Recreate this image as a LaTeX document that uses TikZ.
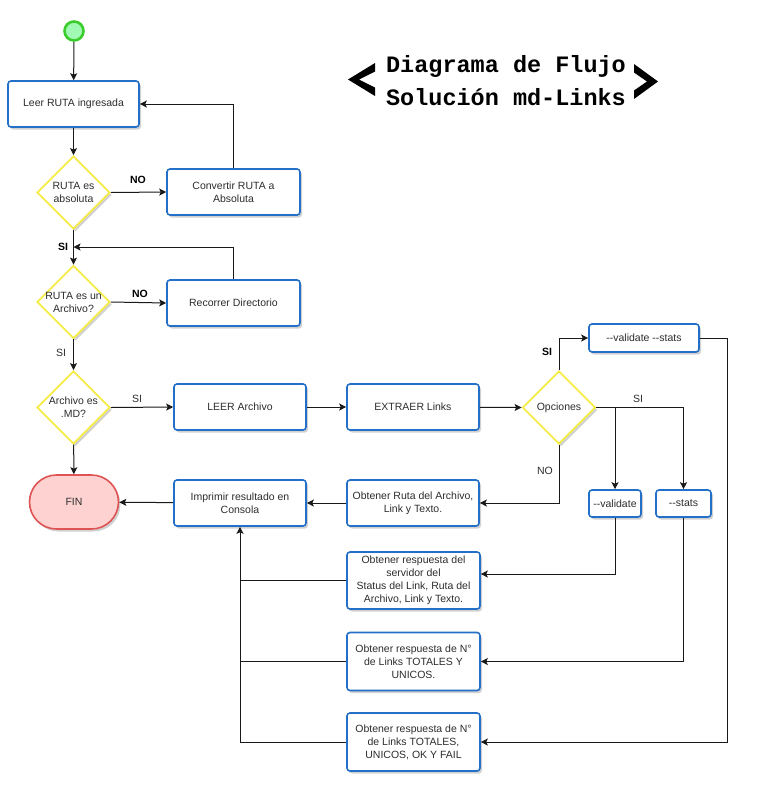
\documentclass[tikz,border=0pt]{standalone}
\usepackage{fontspec}
\setmainfont{Liberation Sans}
\newfontfamily\titlefont{Liberation Mono}
\usetikzlibrary{arrows.meta,shapes.geometric,shapes.misc,shadows}

\definecolor{boxblue}{RGB}{36,112,200}
\definecolor{decyellow}{RGB}{246,236,70}
\definecolor{finfill}{RGB}{255,210,210}
\definecolor{finline}{RGB}{222,84,84}
\definecolor{startfill}{RGB}{160,250,180}
\definecolor{startline}{RGB}{60,205,45}
\definecolor{txt}{RGB}{45,45,45}
\definecolor{wire}{RGB}{25,25,25}

\tikzset{
  shade/.style={drop shadow={shadow xshift=2pt,shadow yshift=-2.5pt,fill=black,opacity=0.18}},
  procbox/.style={rectangle, rounded corners=3pt, draw=boxblue, line width=1.6pt, fill=white,
    shade, inner sep=1pt, align=center, text=txt, font=\fontsize{10.5}{13}\selectfont},
  decbox/.style={diamond, draw=decyellow, line width=1.8pt, fill=white, shade,
    minimum width=73pt, minimum height=73pt, inner sep=0pt},
  dectext/.style={align=center, text=txt, font=\fontsize{10.5}{13}\selectfont, inner sep=0pt},
  lbl/.style={text=txt, font=\fontsize{10.5}{13}\selectfont, inner sep=0pt},
  blbl/.style={text=black, font=\bfseries\fontsize{10.5}{13}\selectfont, inner sep=0pt},
  link/.style={draw=wire, line width=1pt},
  arr/.style={link, -{Stealth[length=7pt,width=7pt,inset=1.5pt]}},
}

\begin{document}
\begin{tikzpicture}[x=1pt,y=-1pt]
\useasboundingbox (0,0) rectangle (768,793);
\fill[white] (0,0) rectangle (768,793);

% title with its angle brackets
\node[font=\titlefont\bfseries\fontsize{23.5}{33}\selectfont, align=center, inner sep=0pt] (title) at (506,81)
  {Diagrama de Flujo\\Solución md-Links};
\fill (375,63) -- (348,79.5) -- (375,96) -- (375,87.5) -- (359,79.5) -- (375,71.5) -- cycle;
\fill (634,64) -- (658,81.5) -- (634,99) -- (634,90.5) -- (647,81.5) -- (634,72.5) -- cycle;

% start / end
\node[circle, draw=startline, fill=startfill, line width=2.6pt, minimum size=19pt, inner sep=0pt] (start) at (74,31) {};
\node[rounded rectangle, draw=finline, fill=finfill, line width=1.6pt, shade, minimum width=89pt,
  minimum height=54pt, inner sep=0pt, text=txt, font=\fontsize{10.5}{13}\selectfont] (fin) at (74,502) {FIN};

% process boxes
\node[procbox, minimum width=131pt, minimum height=46pt] (leer) at (73.5,104) {Leer RUTA ingresada};
\node[procbox, minimum width=133pt, minimum height=46pt] (conv) at (233.5,192) {Convertir RUTA a\\Absoluta};
\node[procbox, minimum width=133pt, minimum height=46pt] (reco) at (233.5,303) {Recorrer Directorio};
\node[procbox, minimum width=132pt, minimum height=46pt] (leerA) at (240,407) {LEER Archivo};
\node[procbox, minimum width=132pt, minimum height=46pt] (extr) at (413,407) {EXTRAER Links};
\node[procbox, minimum width=110pt, minimum height=28pt] (vs) at (644,338) {-{}-validate -{}-stats};
\node[procbox, minimum width=52pt, minimum height=27pt] (val) at (615,503.5) {-{}-validate};
\node[procbox, minimum width=55pt, minimum height=27pt] (sta) at (683.5,503.5) {-{}-stats};
\node[procbox, minimum width=132pt, minimum height=46pt] (obr) at (413,503) {Obtener Ruta del Archivo,\\Link y Texto.};
\node[procbox, minimum width=132pt, minimum height=46pt] (imp) at (240,503) {Imprimir resultado en\\Consola};
\node[procbox, minimum width=133pt, minimum height=57pt] (r1) at (413.5,580.5)
  {Obtener respuesta del\\servidor del\\Status del Link, Ruta del\\Archivo, Link y Texto.};
\node[procbox, minimum width=133pt, minimum height=58pt] (r2) at (413.5,661.5)
  {Obtener respuesta de N°\\de Links TOTALES Y\\UNICOS.};
\node[procbox, minimum width=133pt, minimum height=58pt] (r3) at (413.5,742)
  {Obtener respuesta de N°\\de Links TOTALES,\\UNICOS, OK Y FAIL};

% decisions
\node[decbox] (d1) at (73.5,192.5) {};
\node[dectext] (d1t) at (d1) {RUTA es\\absoluta};
\node[decbox] (d2) at (73.5,302) {};
\node[dectext] (d2t) at (d2) {RUTA es un\\Archivo?};
\node[decbox] (d3) at (73.5,407.5) {};
\node[dectext] (d3t) at (d3) {Archivo es\\.MD?};
\node[decbox] (opc) at (559,407.5) {};
\node[dectext] (opct) at (opc) {Opciones};

% junction points
\coordinate (j1) at (73.5,247);
\coordinate (j2) at (727,338);
\coordinate (j3) at (683.5,407.5);
\coordinate (j4) at (241,580.5);
\coordinate (j5) at (241,661.5);

% main column
\draw[arr] (start) -- (leer);
\draw[arr] (leer) -- (d1);
\draw[arr] (d1) -- (d2);
\draw[arr] (d2) -- (d3);
\draw[arr] (d3) -- (fin);

% branches of the left column
\draw[arr] (d1.east) -- (conv.west);
\draw[arr] (conv.north) |- (leer.east);
\draw[arr] (d2.east) -- (reco.west);
\draw[arr] (reco.north) |- (j1);
\draw[arr] (d3.east) -- (leerA.west);
\draw[arr] (leerA) -- (extr);
\draw[arr] (extr) -- (opc.west);

% options
\draw[arr] (opc.north) |- (vs.west);
\draw[link] (opc.east) -- (j3);
\draw[arr] (j3) -- (sta.north);
\draw[arr] (val.north |- opc.east) -- (val.north);
\draw[arr] (opc.south) |- (obr.east);
\draw[link] (vs.east) -- (j2);
\draw[arr] (j2) |- (r3.east);
\draw[arr] (val.south) |- ([yshift=6.5pt]r1.east);
\draw[arr] (sta.south) |- (r2.east);

% results back to the printer
\draw[arr] (obr) -- (imp);
\draw[arr] (imp) -- (fin);
\draw[link] (r1.west) -- (j4);
\draw[link] (r2.west) -- (j5);
\draw[arr] (r3.west) -| (imp.south);

% connector labels
\node[blbl] (lno1) at (138,180) {NO};
\node[blbl] (lsi1) at (63,247) {SI};
\node[blbl] (lno2) at (140,294) {NO};
\node[lbl] (lsi2) at (61,353) {SI};
\node[lbl] (lsi3) at (137,399) {SI};
\node[blbl] (lsi4) at (547,352) {SI};
\node[lbl] (lsi5) at (638,399) {SI};
\node[lbl] (lno3) at (545,471) {NO};
\end{tikzpicture}
\end{document}
